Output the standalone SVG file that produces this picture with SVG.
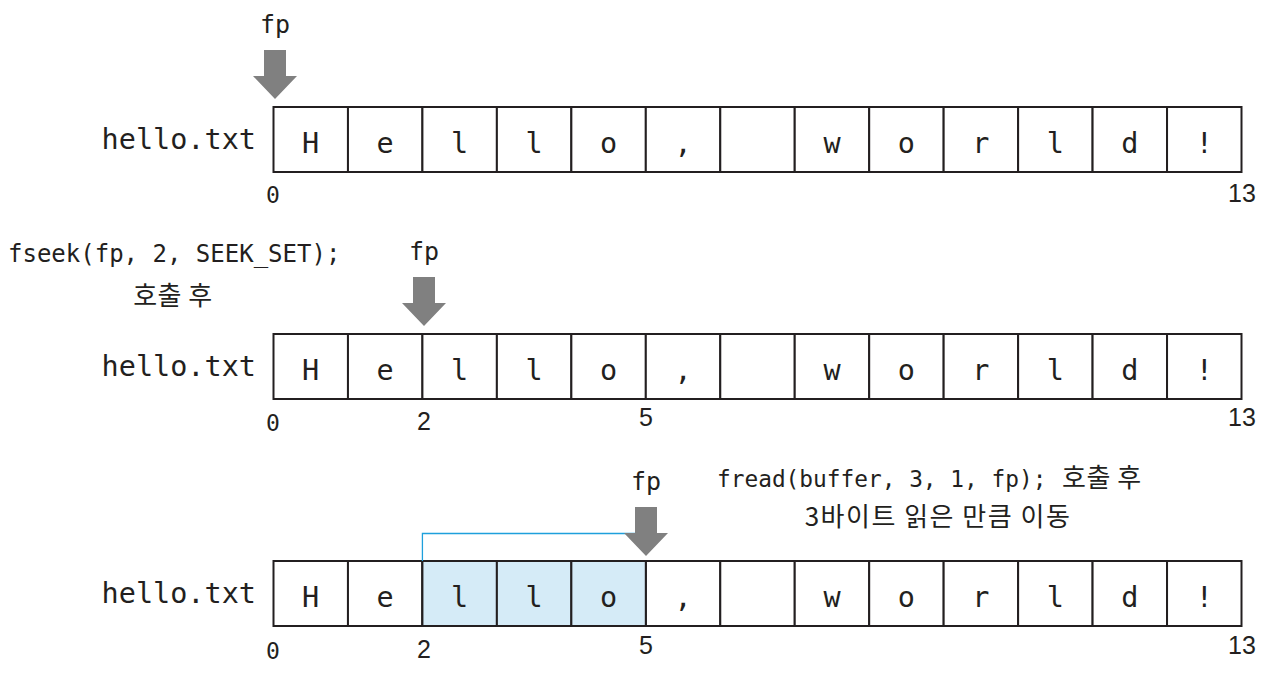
<svg xmlns="http://www.w3.org/2000/svg" xmlns:xlink="http://www.w3.org/1999/xlink" width="1287" height="677" viewBox="0 0 1287 677">
<style>
.cell{fill:#ffffff;stroke:#231f20;stroke-width:2}
.hl{fill:#d5ebf7;stroke:#231f20;stroke-width:2}
.mono{font-family:"DejaVu Sans Mono","Liberation Mono",monospace;fill:#231f20}
.big{font-size:28.5px}
.ch{font-size:28.5px;text-anchor:middle}
.fp{font-size:25px;text-anchor:middle}
.code{font-size:24px}
.idx{font-family:"Liberation Sans","Noto Sans",sans-serif;font-size:25px;fill:#231f20;text-anchor:middle}
.idx0{font-family:"DejaVu Sans Mono",monospace;font-size:23px;fill:#231f20;text-anchor:middle}
.kr{font-family:"Noto Sans CJK KR","Noto Sans",sans-serif;font-size:26px;fill:#231f20;font-weight:400}
.arrow{fill:#808080}
.bracket{fill:none;stroke:#1ea0dc;stroke-width:1.3}
</style>
<defs>
<path id="arr" d="M-11,0 H11 V26 H22 L0,49 L-22,26 H-11 Z"/>
<g id="cells">
<rect class="cell" x="273.5" y="0" width="74.46" height="65"/>
<rect class="cell" x="347.96" y="0" width="74.46" height="65"/>
<rect class="cell" x="422.42" y="0" width="74.46" height="65"/>
<rect class="cell" x="496.88" y="0" width="74.46" height="65"/>
<rect class="cell" x="571.35" y="0" width="74.46" height="65"/>
<rect class="cell" x="645.81" y="0" width="74.46" height="65"/>
<rect class="cell" x="720.27" y="0" width="74.46" height="65"/>
<rect class="cell" x="794.73" y="0" width="74.46" height="65"/>
<rect class="cell" x="869.19" y="0" width="74.46" height="65"/>
<rect class="cell" x="943.65" y="0" width="74.46" height="65"/>
<rect class="cell" x="1018.12" y="0" width="74.46" height="65"/>
<rect class="cell" x="1092.58" y="0" width="74.46" height="65"/>
<rect class="cell" x="1167.04" y="0" width="74.46" height="65"/>
</g>
<g id="letters" class="mono ch">
<text x="310.7" y="46">H</text>
<text x="385.2" y="46">e</text>
<text x="459.7" y="46">l</text>
<text x="534.1" y="46">l</text>
<text x="608.6" y="46">o</text>
<text x="683.0" y="46">,</text>
<text x="832.0" y="46">w</text>
<text x="906.4" y="46">o</text>
<text x="980.9" y="46">r</text>
<text x="1055.3" y="46">l</text>
<text x="1129.8" y="46">d</text>
<text x="1204.3" y="46">!</text>
</g>
</defs>

<g id="row1">
<text class="mono big" x="256" y="149" text-anchor="end">hello.txt</text>
<g transform="translate(0,107)"><use xlink:href="#cells"/><use xlink:href="#letters"/></g>
<text class="idx0" x="273" y="203">0</text>
<text class="idx" x="1242" y="202">13</text>
</g>

<g id="row2">
<text class="mono code" x="8" y="262">fseek(fp, 2, SEEK_SET);</text>
<text class="kr" x="173" y="305" text-anchor="middle" letter-spacing="0.5">호출 후</text>
<text class="mono big" x="256" y="376" text-anchor="end">hello.txt</text>
<g transform="translate(0,334)"><use xlink:href="#cells"/><use xlink:href="#letters"/></g>
<text class="idx0" x="273" y="431">0</text>
<text class="idx" x="424" y="430">2</text>
<text class="idx" x="646" y="426">5</text>
<text class="idx" x="1242" y="426">13</text>
</g>

<g id="row3">
<text x="717" y="487"><tspan class="mono code" style="font-size:22.8px">fread(buffer, 3, 1, fp);</tspan><tspan class="kr" x="1062" letter-spacing="0.5">호출 후</tspan></text>
<text class="kr" x="938" y="526" text-anchor="middle" letter-spacing="1.5">3바이트 읽은 만큼 이동</text>
<text class="mono big" x="256" y="603" text-anchor="end">hello.txt</text>
<g transform="translate(0,561)">
<use xlink:href="#cells"/>
<rect class="hl" x="422.42" y="0" width="74.46" height="65"/>
<rect class="hl" x="496.88" y="0" width="74.46" height="65"/>
<rect class="hl" x="571.35" y="0" width="74.46" height="65"/>
<use xlink:href="#letters"/>
</g>
<text class="idx0" x="273" y="659">0</text>
<text class="idx" x="424" y="658">2</text>
<text class="idx" x="646" y="654">5</text>
<text class="idx" x="1242" y="654">13</text>
</g>

<g id="connectors">
<polyline class="bracket" points="422.42,561 422.42,533.5 646,533.5"/>
<g id="fp1"><text class="mono fp" x="275" y="33">fp</text><use xlink:href="#arr" class="arrow" transform="translate(275,50)"/></g>
<g id="fp2"><text class="mono fp" x="424" y="260">fp</text><use xlink:href="#arr" class="arrow" transform="translate(424,277)"/></g>
<g id="fp3"><text class="mono fp" x="646" y="490">fp</text><use xlink:href="#arr" class="arrow" transform="translate(646,507)"/></g>
</g>
</svg>
